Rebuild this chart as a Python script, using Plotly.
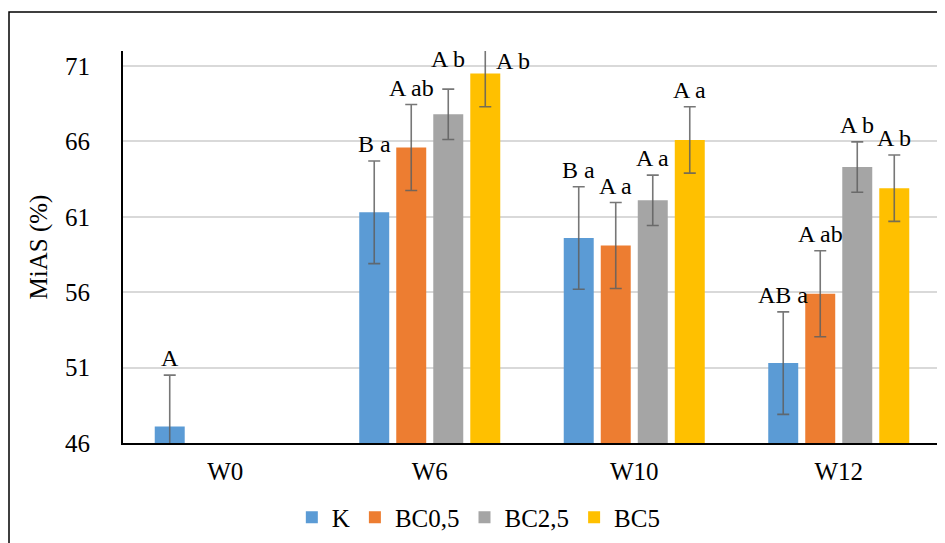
import plotly.graph_objects as go

categories = ["W0", "W6", "W10", "W12"]
series_names = ["K", "BC0,5", "BC2,5", "BC5"]

k_values = [47.1, 61.3, 59.6, 51.3]
bc05_values = [None, 65.6, 59.1, 55.9]
bc25_values = [None, 67.8, 62.1, 64.3]
bc5_values = [None, 70.5, 66.1, 62.9]

k_err = [3.4, 3.4, 3.4, 3.4]
bc05_err = [0, 2.85, 2.85, 2.85]
bc25_err = [0, 1.67, 1.67, 1.67]
bc5_err = [0, 2.2, 2.2, 2.2]

k_labels = ["A", "B a", "B a", "AB a"]
bc05_labels = [None, "A ab", "A a", "A ab"]
bc25_labels = [None, "A b", "A a", "A b"]
bc5_labels = [None, "A b", "A a", "A b"]

values = [k_values, bc05_values, bc25_values, bc5_values]
errors = [k_err, bc05_err, bc25_err, bc5_err]
labels = [k_labels, bc05_labels, bc25_labels, bc5_labels]
colors = ["#5B9BD5", "#ED7D31", "#A5A5A5", "#FFC000"]

FONT = "Liberation Serif"
BARGAP = 0.276
slot = (1 - BARGAP) / len(series_names)

fig = go.Figure()
xs = list(range(len(categories)))
for j, name in enumerate(series_names):
    fig.add_trace(go.Bar(
        x=xs, y=values[j], name=name,
        marker=dict(color=colors[j], line=dict(width=0)),
        error_y=dict(type="data", array=errors[j], visible=True,
                     color="rgba(95,95,95,0.85)", thickness=1.6, width=6),
    ))

# label placement overrides (style only): (series, category) -> (xshift, extra yshift, anchor to bar top)
overrides = {(2, 1): (0, 13, False), (3, 1): (28, 0, True)}

annotations = []
for j in range(len(series_names)):
    for i in range(len(categories)):
        txt = labels[j][i]
        v = values[j][i]
        if txt is None or v is None:
            continue
        xs_, ys_, on_bar = overrides.get((j, i), (0, 0, False))
        x = i + (j - (len(series_names) - 1) / 2) * slot
        if on_bar:
            y = v
            yshift = -2
        else:
            y = v + errors[j][i]
            yshift = 2 + ys_
        annotations.append(dict(
            x=x, y=y, xref="x", yref="y", text=txt, showarrow=False,
            yanchor="bottom", xanchor="center", xshift=xs_, yshift=yshift,
            font=dict(family=FONT, size=24, color="#000000"),
        ))

fig.update_layout(
    width=937, height=535,
    margin=dict(l=115, r=4, t=43, b=100, autoexpand=False),
    paper_bgcolor="white", plot_bgcolor="white",
    barmode="group", bargap=BARGAP, bargroupgap=0.19,
    font=dict(family=FONT, size=25, color="#000000"),
    showlegend=True,
    legend=dict(orientation="h", x=0.435, xanchor="center", y=-0.19, yanchor="middle",
                font=dict(family=FONT, size=25), traceorder="normal",
                itemwidth=30),
    annotations=annotations,
    shapes=[dict(type="rect", xref="paper", yref="paper",
                 x0=(9 - 123) / 818, x1=(960 - 123) / 818,
                 y0=(443 - 560) / 392, y1=(443 - 12) / 392,
                 line=dict(color="#000000", width=1.5), fillcolor="rgba(0,0,0,0)",
                 layer="below")],
)

fig.update_xaxes(
    tickmode="array", tickvals=xs, ticktext=categories,
    range=[-0.5, len(categories) - 0.5],
    showline=True, linecolor="#000000", linewidth=2,
    showgrid=False, zeroline=False,
    ticks="outside", ticklen=5, tickcolor="rgba(0,0,0,0)",
    tickfont=dict(family=FONT, size=25),
)
fig.update_yaxes(
    range=[46, 72], tickmode="array", tickvals=[46, 51, 56, 61, 66, 71],
    showline=True, linecolor="#000000", linewidth=2,
    showgrid=True, gridcolor="#D9D9D9", gridwidth=1.5, zeroline=False,
    ticks="outside", ticklen=26, tickcolor="rgba(0,0,0,0)",
    tickfont=dict(family=FONT, size=25),
    title=dict(text="MiAS (%)", font=dict(family=FONT, size=25), standoff=10),
)

fig.write_html("out.html")
